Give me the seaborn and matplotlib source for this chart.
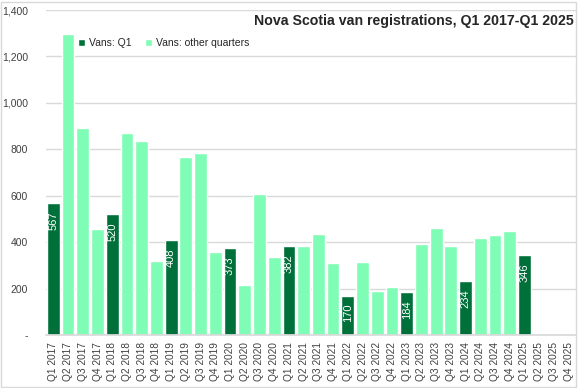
import matplotlib
matplotlib.use("Agg")
import matplotlib.pyplot as plt
import seaborn as sns
import pandas as pd
from matplotlib.patches import Rectangle
from matplotlib.ticker import FuncFormatter

# ---- data ----
years = [2017, 2018, 2019, 2020, 2021, 2022, 2023, 2024, 2025]
quarter_names = ["Q1", "Q2", "Q3", "Q4"]
categories = [f"{q} {y}" for y in years for q in quarter_names]
vans = [567, 1298, 891, 456,
        520, 872, 836, 317,
        408, 767, 786, 357,
        373, 217, 607, 334,
        382, 383, 433, 309,
        170, 313, 190, 206,
        184, 390, 463, 383,
        234, 416, 429, 446,
        346]
series_q1 = "Vans: Q1"
series_other = "Vans: other quarters"
title = "Nova Scotia van registrations, Q1 2017-Q1 2025"

dark_green = "#00703A"
light_green = "#7FFCB5"

df = pd.DataFrame({"quarter": categories[:len(vans)], "vans": vans})
df["series"] = [series_q1 if q.startswith("Q1") else series_other for q in df["quarter"]]

sns.set_theme(style="white")
plt.rcParams["font.family"] = ["Liberation Sans", "DejaVu Sans"]

fig = plt.figure(figsize=(5.78, 3.88), dpi=100)
ax = fig.add_axes([46 / 578, 53 / 388, 530 / 578, 325 / 388])

sns.barplot(data=df, x="quarter", y="vans", hue="series", order=categories,
            hue_order=[series_q1, series_other], palette=[dark_green, light_green],
            dodge=False, width=0.87, saturation=1, ax=ax)

# value labels on Q1 bars
q1_vals = df.loc[df["series"] == series_q1, "vans"].tolist()
texts = ax.bar_label(ax.containers[0], labels=[f"{v:.0f}" for v in q1_vals],
                     padding=-6, rotation=90, color="white", fontsize=8)
for t in texts:
    t.set_va("top")

ax.set_xlim(-0.5, len(categories) - 0.5)
ax.set_ylim(0, 1400)
ax.set_yticks(range(0, 1401, 200))
ax.yaxis.set_major_formatter(FuncFormatter(lambda v, p: "-" if v == 0 else f"{v:,.0f}"))
ax.set_xlabel("")
ax.set_ylabel("")
ax.tick_params(axis="y", length=0, pad=13, labelsize=7.5, labelcolor="#404040")
ax.tick_params(axis="x", length=0, pad=5, labelsize=7.3, labelcolor="#404040", rotation=90)

ax.yaxis.grid(True, color="#D9D9D9", lw=1)
ax.set_axisbelow(True)
for s in ["left", "top", "right"]:
    ax.spines[s].set_visible(False)
ax.spines["bottom"].set_color("#D9D9D9")

ax.legend(loc="center left", bbox_to_anchor=(0.06, 0.8975), ncol=2, frameon=False,
          handlelength=0.7, handleheight=0.7, handletextpad=0.35, columnspacing=1.3,
          borderpad=0, borderaxespad=0, fontsize=7.5)

fig.text(574 / 578, 1 - 20.5 / 388, title, ha="right", va="center",
         fontsize=10.2, fontweight="bold",
         family=["Liberation Sans Narrow", "Liberation Sans", "DejaVu Sans"])

fig.add_artist(Rectangle((1 / 578, 1 / 388), 575 / 578, 385 / 388, transform=fig.transFigure,
                         fill=False, ec="#D9D9D9", lw=1))

fig.savefig("out.png", dpi=100)
